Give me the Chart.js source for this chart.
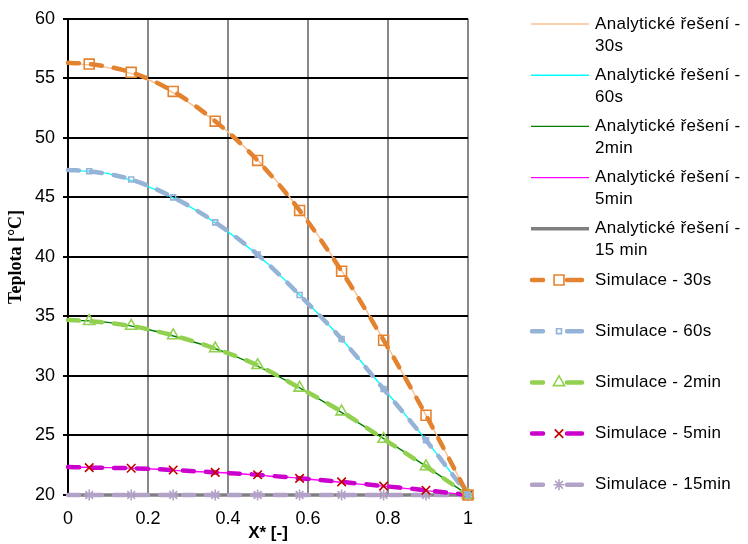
<!DOCTYPE html>
<html>
<head>
<meta charset="utf-8">
<script src="https://cdn.jsdelivr.net/npm/chart.js@4.4.0/dist/chart.umd.min.js"></script>
<style>
  html, body { margin: 0; padding: 0; background: #fff; }
</style>
</head>
<body>
<canvas id="chart" width="748" height="544"></canvas>
<script>
// x positions (dimensionless X*)
var xAna = [0, 0.1, 0.2, 0.3, 0.4, 0.5, 0.6, 0.7, 0.8, 0.9, 1];
var xSim = [0, 0.053, 0.158, 0.263, 0.368, 0.474, 0.579, 0.684, 0.789, 0.895, 1];

// analytical solution, temperature [°C]
var ana30s   = [56.3, 55.9, 54.9, 53.0, 50.5, 47.2, 43.0, 38.0, 32.4, 26.4, 20.0];
var ana60s   = [47.3, 47.0, 45.9, 44.3, 42.1, 39.4, 36.1, 32.5, 28.5, 24.4, 20.0];
var ana2min  = [34.7, 34.5, 33.9, 33.0, 31.9, 30.4, 28.6, 26.6, 24.5, 22.3, 20.0];
var ana5min  = [22.35, 22.3, 22.2, 22.0, 21.85, 21.6, 21.35, 21.0, 20.7, 20.35, 20.0];
var ana15min = [20.0, 20.0, 20.0, 20.0, 20.0, 20.0, 20.0, 20.0, 20.0, 20.0, 20.0];

// simulation, temperature [°C]
var sim30s   = [56.3, 56.2, 55.5, 53.9, 51.4, 48.1, 43.9, 38.8, 33.0, 26.7, 20.0];
var sim60s   = [47.3, 47.2, 46.5, 45.0, 42.9, 40.2, 36.8, 33.1, 28.9, 24.6, 20.0];
var sim2min  = [34.7, 34.6, 34.2, 33.4, 32.3, 30.9, 29.0, 27.0, 24.7, 22.4, 20.0];
var sim5min  = [22.35, 22.3, 22.25, 22.1, 21.9, 21.7, 21.4, 21.1, 20.75, 20.4, 20.0];
var sim15min = [20.0, 20.0, 20.0, 20.0, 20.0, 20.0, 20.0, 20.0, 20.0, 20.0, 20.0];

var yTicks = [20, 25, 30, 35, 40, 45, 50, 55, 60];
var xTicks = [0, 0.2, 0.4, 0.6, 0.8, 1];

var FONT = '"Liberation Sans", Arial, sans-serif';

function pts(xs, ys) {
  return ys.map(function (y, i) { return { x: xs[i], y: y }; });
}

// first simulation point (X*=0) has no marker
function radii(r) {
  return xSim.map(function (x, i) { return i === 0 ? 0 : r; });
}

function anaSet(label, data, color, width) {
  return {
    label: label,
    data: pts(xAna, data),
    borderColor: color,
    borderWidth: width,
    pointRadius: 0,
    cubicInterpolationMode: 'monotone',
    clip: 10,
    order: 2
  };
}

function simSet(label, data, color, markColor, style, r) {
  return {
    label: label,
    data: pts(xSim, data),
    borderColor: color,
    borderWidth: 4.5,
    borderDash: [11, 12],
    borderCapStyle: 'round',
    cubicInterpolationMode: 'monotone',
    pointStyle: style,
    pointRadius: radii(r),
    pointBorderColor: markColor,
    pointBackgroundColor: 'rgba(0,0,0,0)',
    pointBorderWidth: 1.6,
    clip: 10,
    order: 1
  };
}

var datasets = [
  anaSet('Analytické řešení - 30s', ana30s, '#FAC090', 1.4),
  anaSet('Analytické řešení - 60s', ana60s, '#00FFFF', 1.4),
  anaSet('Analytické řešení - 2min', ana2min, '#008000', 1.4),
  anaSet('Analytické řešení - 5min', ana5min, '#FF00FF', 1.4),
  anaSet('Analytické řešení - 15 min', ana15min, '#808080', 3.5),
  simSet('Simulace - 30s', sim30s, '#E3822F', '#E3822F', 'rect', 7),
  simSet('Simulace - 60s', sim60s, '#95B3D7', '#95B3D7', 'rect', 3.5),
  simSet('Simulace - 2min', sim2min, '#92D050', '#92D050', 'triangle', 6.5),
  simSet('Simulace - 5min', sim5min, '#CC00CC', '#C00000', 'crossRot', 6),
  simSet('Simulace - 15min', sim15min, '#B3A2C7', '#B3A2C7', 'star', 5.5)
];

// legend on the right, with wrapped text like the original
var sideLegend = {
  id: 'sideLegend',
  afterDraw: function (chart) {
    var ctx = chart.ctx;
    ctx.save();
    ctx.font = '17px ' + FONT;
    if ('letterSpacing' in ctx) ctx.letterSpacing = '0.3px';
    ctx.fillStyle = '#000';
    ctx.textBaseline = 'middle';
    chart.data.datasets.forEach(function (ds, i) {
      var y = 24 + i * 51.2;
      ctx.save();
      ctx.strokeStyle = ds.borderColor;
      ctx.lineWidth = ds.borderWidth;
      ctx.lineCap = ds.borderDash ? 'round' : 'butt';
      ctx.beginPath();
      if (ds.borderDash) {
        ctx.moveTo(532, y); ctx.lineTo(543, y);
        ctx.moveTo(567, y); ctx.lineTo(582, y);
      } else {
        ctx.moveTo(531, y); ctx.lineTo(589, y);
      }
      ctx.stroke();
      if (ds.borderDash) {
        ctx.strokeStyle = ds.pointBorderColor;
        ctx.fillStyle = 'rgba(0,0,0,0)';
        ctx.lineWidth = ds.pointBorderWidth;
        ctx.lineCap = 'butt';
        Chart.helpers.drawPoint(ctx, {
          pointStyle: ds.pointStyle,
          radius: ds.pointRadius[1],
          borderWidth: ds.pointBorderWidth,
          rotation: 0
        }, 559, y);
      }
      ctx.restore();
      // wrap label
      var words = ds.label.split(' ');
      var lines = [], cur = '';
      words.forEach(function (w) {
        var t = cur ? cur + ' ' + w : w;
        if (ctx.measureText(t).width > 152 && cur) { lines.push(cur); cur = w; }
        else cur = t;
      });
      lines.push(cur);
      lines.forEach(function (l, k) { ctx.fillText(l, 595, y + k * 22); });
    });
    ctx.restore();
  }
};

var ctx = document.getElementById('chart').getContext('2d');
var chart = new Chart(ctx, {
  type: 'line',
  data: { datasets: datasets },
  options: {
    responsive: false,
    animation: false,
    devicePixelRatio: 1,
    layout: { padding: { top: 18, right: 280, left: 0, bottom: 0 } },
    plugins: { legend: { display: false }, tooltip: { enabled: false } },
    scales: {
      x: {
        type: 'linear',
        min: 0,
        max: 1,
        afterBuildTicks: function (s) { s.ticks = xTicks.map(function (v) { return { value: v }; }); },
        ticks: {
          color: '#000',
          font: { family: FONT, size: 18 },
          padding: 13,
          maxRotation: 0,
          callback: function (v) { return String(v); }
        },
        grid: { color: '#888', lineWidth: 2, drawTicks: false },
        border: { display: false },
        title: {
          display: true,
          text: 'X* [-]',
          color: '#000',
          font: { family: FONT, size: 17, weight: 'bold' },
          padding: { top: 0, bottom: 0 }
        },
        afterFit: function (s) { s.height = 49; }
      },
      y: {
        min: 20,
        max: 60,
        afterBuildTicks: function (s) { s.ticks = yTicks.map(function (v) { return { value: v }; }); },
        ticks: {
          color: '#000',
          font: { family: FONT, size: 18 },
          padding: 8
        },
        grid: { color: '#000', lineWidth: 2, tickLength: 5 },
        border: { color: '#000', width: 2 },
        title: {
          display: true,
          text: 'Teplota [°C]',
          color: '#000',
          font: { family: '"Liberation Serif", "Times New Roman", serif', size: 18, weight: 'bold' },
          padding: { top: 6, bottom: 0 }
        },
        afterFit: function (s) { s.width = 68; }
      }
    }
  },
  plugins: [sideLegend]
});
</script>
</body>
</html>
